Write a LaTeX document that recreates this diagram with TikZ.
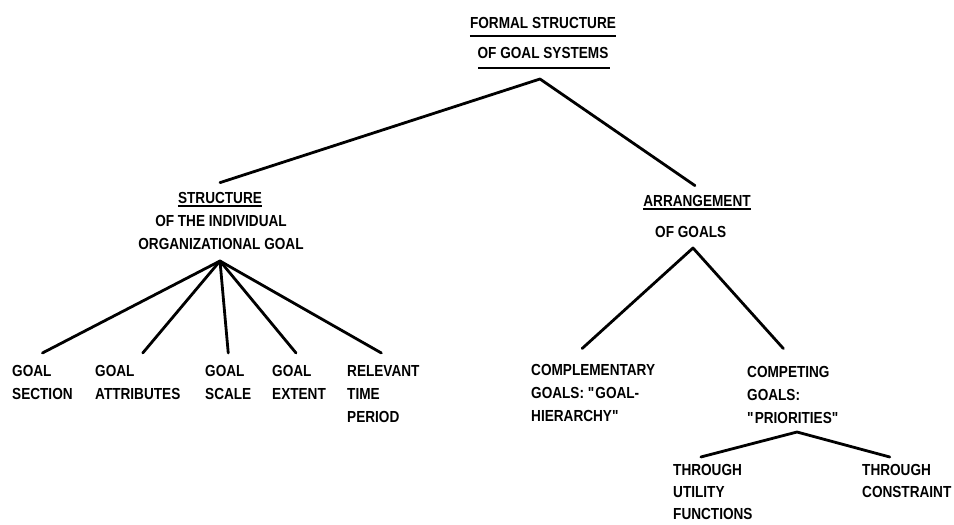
\documentclass[tikz,border=0pt]{standalone}
\usepackage{fontspec}
\setmainfont{Liberation Sans}[FakeStretch=0.85]
\begin{document}
\begin{tikzpicture}[x=1pt,y=-1pt,
    lbl/.style={font=\bfseries\fontsize{16}{23}\selectfont, inner sep=0pt, align=left, anchor=north west},
    ttl/.style={font=\bfseries\fontsize{16}{23}\selectfont, inner sep=0pt, anchor=base},
    edge/.style={line width=2.8pt, line cap=round, line join=round},
    uline/.style={line width=1.8pt}]
    \useasboundingbox (0,0) rectangle (954,525);

    % title
    \node[ttl] (formal) at (543,28) {FORMAL STRUCTURE};
    \node[ttl] (systems) at (543,58) {OF GOAL SYSTEMS};
    \draw[uline] ([yshift=-8pt]formal.base west) -- ([yshift=-8pt]formal.base east);
    \draw[uline] ([xshift=1pt,yshift=-10pt]systems.base west) -- ([xshift=1pt,yshift=-10pt]systems.base east);
    \coordinate (top) at (540,79);

    % left branch
    \node[ttl] (structure) at (220,203) {STRUCTURE};
    \draw[uline] ([yshift=-3pt]structure.base west) -- ([yshift=-3pt]structure.base east);
    \node[ttl, align=center, anchor=north] (individual) at (221,215.5) {OF THE INDIVIDUAL\\ORGANIZATIONAL GOAL};
    \coordinate (fan) at (220,261);

    \node[lbl] (section) at (12,365.5) {GOAL\\SECTION};
    \node[lbl] (attrib) at (95,365.5) {GOAL\\ATTRIBUTES};
    \node[lbl] (scale) at (205,365.5) {GOAL\\SCALE};
    \node[lbl] (extent) at (272,365.5) {GOAL\\EXTENT};
    \node[lbl] (period) at (347,365.5) {RELEVANT\\TIME\\PERIOD};

    % right branch
    \node[ttl] (arrange) at (697,206) {ARRANGEMENT};
    \draw[uline] ([yshift=-3pt]arrange.base west) -- ([yshift=-3pt]arrange.base east);
    \node[lbl] (ofgoals) at (655,226.5) {OF GOALS};
    \coordinate (split) at (693,248);

    \node[lbl] (compl) at (531,364.5) {COMPLEMENTARY\\GOALS: \textquotedbl GOAL-\\HIERARCHY\textquotedbl};
    \node[lbl] (compet) at (747,366.5) {COMPETING\\GOALS:\\\textquotedbl PRIORITIES\textquotedbl};
    \coordinate (prio) at (797,432);

    \node[lbl, font=\bfseries\fontsize{16}{22}\selectfont] (utility) at (673,464) {THROUGH\\UTILITY\\FUNCTIONS};
    \node[lbl, font=\bfseries\fontsize{16}{22}\selectfont] (constr) at (862,464) {THROUGH\\CONSTRAINT};

    % connectors
    \draw[edge] ([yshift=9pt]structure.north) -- (top) -- ([xshift=-2pt,yshift=9pt]arrange.north);
    \foreach \n/\dx in {section/0, attrib/5, scale/0, extent/-3, period/-2}
        \draw[edge] (fan) -- ([xshift=\dx pt,yshift=12.5pt]\n.north);
    \draw[edge] ([xshift=-11pt,yshift=16pt]compl.north) -- (split) -- ([xshift=-10pt,yshift=18pt]compet.north);
    \draw[edge] ([xshift=-12pt,yshift=7pt]utility.north) -- (prio) -- ([xshift=-17pt,yshift=7pt]constr.north);
\end{tikzpicture}
\end{document}
